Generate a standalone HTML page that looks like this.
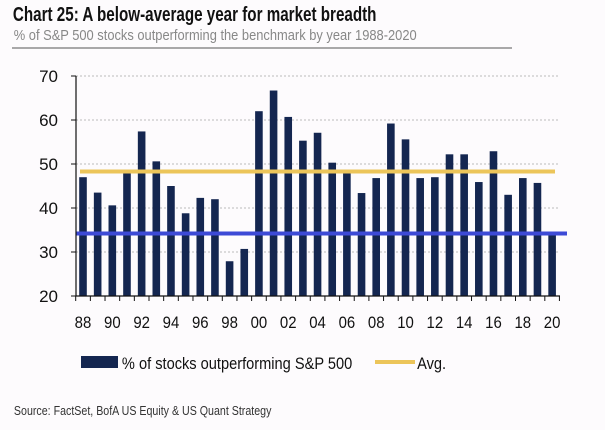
<!DOCTYPE html>
<html><head><meta charset="utf-8"><style>
body{margin:0;background:#fdfbfd;width:605px;height:425px;overflow:hidden;font-family:"Liberation Sans",sans-serif}
</style></head><body>
<svg width="605" height="425" id="svg">
<text x="17" y="21" font-size="20" font-weight="bold" fill="#111" transform="scale(0.76,1)">Chart 25: A below-average year for market breadth</text>
<text x="16" y="40" font-size="15" fill="#888" transform="scale(0.86,1)">% of S&amp;P 500 stocks outperforming the benchmark by year 1988-2020</text>
<line x1="12" y1="48" x2="512" y2="48" stroke="#555" stroke-width="1"/>
<g id="grid"></g><g id="bars"></g><g id="lines"></g><g id="axes"></g>
<rect x="81" y="356" width="37" height="12" fill="#142650"/>
<text x="122" y="369" font-size="17" fill="#111" transform="translate(17,0) scale(0.86,1)">% of stocks outperforming S&amp;P 500</text>
<line x1="375" y1="362" x2="415" y2="362" stroke="#ecc55a" stroke-width="4"/>
<text x="485" y="369" font-size="17" fill="#111" transform="scale(0.86,1)">Avg.</text>
<text x="17" y="415" font-size="13" fill="#333" transform="scale(0.82,1)">Source: FactSet, BofA US Equity &amp; US Quant Strategy</text>
</svg>
<script>
const years=[1988,1989,1990,1991,1992,1993,1994,1995,1996,1997,1998,1999,2000,2001,2002,2003,2004,2005,2006,2007,2008,2009,2010,2011,2012,2013,2014,2015,2016,2017,2018,2019,2020];
const values=[47,43.5,40.6,48,57.4,50.6,45,38.8,42.3,42,27.9,30.7,62,66.7,60.7,55.3,57.1,50.3,48,43.4,46.8,59.2,55.6,46.8,47,52.2,52.2,45.9,52.9,43,46.8,45.7,34];
const avgValue=[48.3];
const currentValue=[34.2];
const yTicks=[20,30,40,50,60,70];
const ns="http://www.w3.org/2000/svg";
const y=v=>296-(v-20)*4.4;
const x=i=>83+i*14.66;
function mk(t,a,p){const e=document.createElementNS(ns,t);for(const k in a)e.setAttribute(k,a[k]);document.getElementById(p).appendChild(e);return e;}
yTicks.forEach(t=>{
 if(t>20){const g=mk('line',{x1:76,x2:560,y1:y(t),y2:y(t),stroke:'#bbb','stroke-dasharray':'2,2'},'grid');
 
 }
 const tk=mk('line',{x1:71,x2:76,y1:y(t),y2:y(t),stroke:'#111'},'axes');
 
 
 const l=mk('text',{x:58,y:y(t)+6,'font-size':17,'text-anchor':'end',fill:'#111'},'axes');l.textContent=t;
 
 
});
values.forEach((v,i)=>{
 const b=mk('rect',{x:x(i)-3.8,y:y(v),width:7.6,height:296-y(v),fill:'#142650'},'bars');
 
 
 const tk=mk('line',{x1:x(i)-7.3,x2:x(i)-7.3,y1:296,y2:301,stroke:'#111'},'axes');
 
 
 if(i%2==0){const l=mk('text',{x:x(i),y:328,'font-size':17,'text-anchor':'middle',fill:'#111',transform:`translate(${x(i)*0.12},0) scale(0.88,1)`},'axes');
 l.textContent=String(years[i]).slice(2);
 
 }
});
const endTk=mk('line',{x1:x(32)+7.3,x2:x(32)+7.3,y1:296,y2:301,stroke:'#111'},'axes');


const av=mk('line',{x1:80,x2:555,y1:y(avgValue[0]),y2:y(avgValue[0]),stroke:'#ecc55a','stroke-width':4},'lines');


const cu=mk('line',{x1:76,x2:567,y1:y(currentValue[0]),y2:y(currentValue[0]),stroke:'#3d4ad6','stroke-width':4},'lines');


const ya=mk('line',{x1:76,x2:76,y1:y(70),y2:296,stroke:'#111','stroke-width':1.2},'axes');


const xa=mk('line',{x1:76,x2:560,y1:296,y2:296,stroke:'#111','stroke-width':1.2},'axes');


</script>
</body></html>
